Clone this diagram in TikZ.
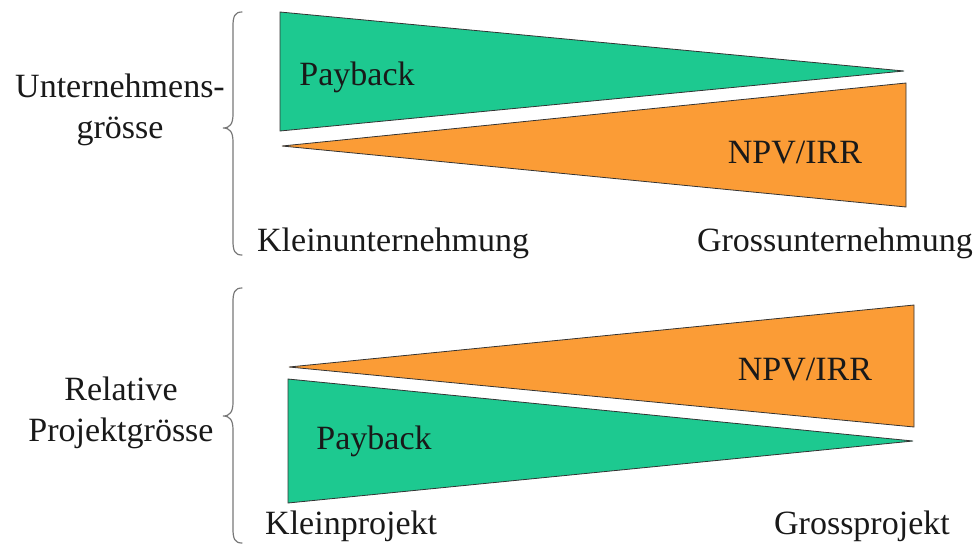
\documentclass[tikz,border=0pt]{standalone}
\usepackage{fontspec}
\setmainfont{Liberation Serif}
\definecolor{payg}{RGB}{29,201,144}
\definecolor{npvo}{RGB}{251,156,54}
\definecolor{bracegray}{RGB}{120,120,120}
\tikzset{
  wedge/.style={draw=black!80, line width=0.8pt, line join=miter},
  lbl/.style={font=\fontsize{34}{41}\selectfont, inner sep=0pt, text=black!90},
  curly/.style={draw=bracegray, line width=1.2pt, line cap=round}
}
\begin{document}
\begin{tikzpicture}[x=1pt,y=-1pt]
\useasboundingbox (0,0) rectangle (978,550);

% --- company size ---
\path[wedge, fill=payg] (280,12) -- (904,71) -- (280,131) -- cycle;
\path[wedge, fill=npvo] (282,146) -- (906,83) -- (906,207) -- cycle;
\draw[curly] (242,12) .. controls (235,12) and (233,16) .. (233,26) -- (233,114)
  .. controls (233,124) and (230,128) .. (223,128)
  .. controls (230,128) and (233,132) .. (233,142) -- (233,241)
  .. controls (233,251) and (235,255) .. (242,255);
\node[lbl, align=center] (firm) at (120,110) {Unternehmens-\\grösse};
\node[lbl] (pay1) at (357,77) {Payback};
\node[lbl] (npv1) at (795,153) {NPV/IRR};
\node[lbl, anchor=west] (small1) at (257,243) {Kleinunternehmung};
\node[lbl, anchor=east] (large1) at (973,243) {Grossunternehmung};

% --- relative project size ---
\path[wedge, fill=npvo] (289,367) -- (914,305) -- (914,427) -- cycle;
\path[wedge, fill=payg] (288,379) -- (913,441) -- (288,503) -- cycle;
\draw[curly] (242,288) .. controls (235,288) and (233,292) .. (233,302) -- (233,402)
  .. controls (233,412) and (230,416) .. (223,416)
  .. controls (230,416) and (233,420) .. (233,430) -- (233,529)
  .. controls (233,539) and (235,543) .. (242,543);
\node[lbl, align=center] (proj) at (121,413) {Relative\\Projektgrösse};
\node[lbl] (npv2) at (805,370) {NPV/IRR};
\node[lbl] (pay2) at (374,441) {Payback};
\node[lbl, anchor=west] (small2) at (265,526) {Kleinprojekt};
\node[lbl, anchor=east] (large2) at (950,526) {Grossprojekt};
\end{tikzpicture}
\end{document}
